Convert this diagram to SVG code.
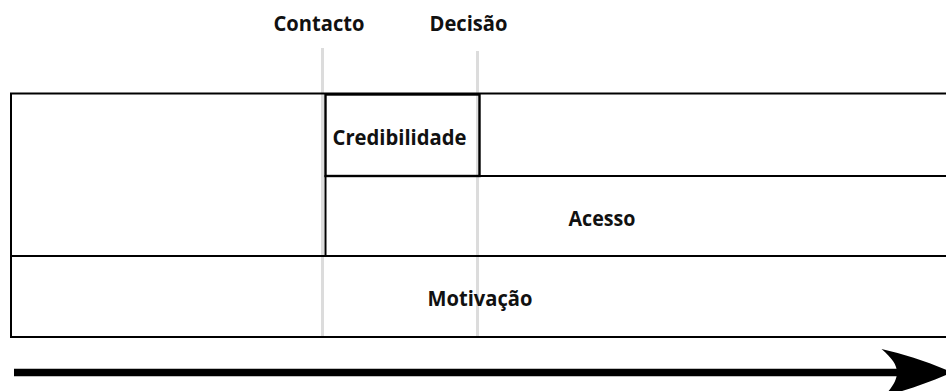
<svg xmlns="http://www.w3.org/2000/svg" width="946" height="391" viewBox="0 0 946 391">
<style>
.lbl{font-family:"Open Sans","Liberation Sans",sans-serif;font-weight:700;font-size:21px;fill:#111}
.edge{stroke:#000;stroke-width:2;fill:none}
.mile{stroke:#dcdcdc;stroke-width:3;fill:none}
</style>
<rect width="946" height="391" fill="#fff"/>
<g id="milestones">
<line class="mile" x1="322.5" y1="48" x2="322.5" y2="337"/>
<line class="mile" x1="477.5" y1="51" x2="477.5" y2="337"/>
<text class="lbl" x="273.5" y="30.5" textLength="91" lengthAdjust="spacingAndGlyphs">Contacto</text>
<text class="lbl" x="429.5" y="30.5" textLength="78" lengthAdjust="spacingAndGlyphs">Decisão</text>
</g>
<g id="outer">
<path class="edge" d="M946 93.5H11V337H946"/>
</g>
<g id="motivacao">
<line class="edge" x1="11" y1="256" x2="946" y2="256"/>
<text class="lbl" x="427.5" y="305.5" textLength="105" lengthAdjust="spacingAndGlyphs">Motivação</text>
</g>
<g id="acesso">
<path class="edge" d="M946 176H325.5V256"/>
<text class="lbl" x="568.5" y="226" textLength="67" lengthAdjust="spacingAndGlyphs">Acesso</text>
</g>
<g id="credibilidade">
<rect class="edge" x="325.5" y="94.5" width="154" height="81.5" style="stroke-width:2.4"/>
<text class="lbl" x="332.5" y="145" textLength="134" lengthAdjust="spacingAndGlyphs">Credibilidade</text>
</g>
<g id="connectors">
<line x1="14" y1="372.4" x2="900" y2="372.4" stroke="#000" stroke-width="7.5"/>
<path d="M952 372.4 C928 362 905 354 881.5 349 C892 358 897 365 897 372.4 C897 380 892 388 884 396 C908 390 930 382 952 372.4Z" fill="#000"/>
</g>
</svg>
